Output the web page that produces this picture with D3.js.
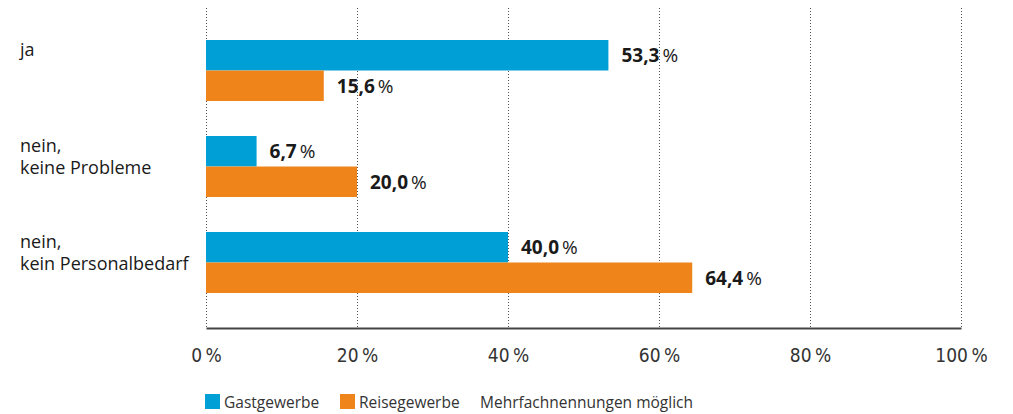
<!DOCTYPE html>
<html>
<head>
<meta charset="utf-8">
<script src="https://cdn.jsdelivr.net/npm/d3@7"></script>
<style>
  body { margin: 0; background: #fff; }
  svg text { font-family: "Open Sans", "Noto Sans", sans-serif; fill: #1a1a1a; }
  .tick text { font-family: "DejaVu Sans Condensed", "DejaVu Sans", sans-serif; font-stretch: condensed; font-size: 19px; fill: #333; }
</style>
</head>
<body>
<div id="chart"></div>
<script>
// data
const categories = [['ja'], ['nein,', 'keine Probleme'], ['nein,', 'kein Personalbedarf']]
const seriesNames = ['Gastgewerbe', 'Reisegewerbe']
const gastgewerbe = [53.3, 6.7, 40.0]
const reisegewerbe = [15.6, 20.0, 64.4]
const xTicks = [0, 20, 40, 60, 80, 100]
const note = 'Mehrfachnennungen möglich'
const colors = ['#009fd6', '#ef841b']

const width = 1013
const height = 414

const svg = d3.select('#chart').append('svg')
    .attr('width', width)
    .attr('height', height)

const x = d3.scaleLinear().domain([0, 100]).range([206, 961])

// groups
const y0 = d3.scaleBand()
    .domain(d3.range(categories.length))
    .range([40, 293])
    .paddingInner(35 / 96)
    .paddingOuter(0)
    .align(0)
const y1 = d3.scaleBand()
    .domain([0, 1])
    .range([0, y0.bandwidth()])

// gridlines
svg.append('g')
    .selectAll('line')
    .data(xTicks)
    .join('line')
    .attr('x1', d => x(d) + 0.5)
    .attr('x2', d => x(d) + 0.5)
    .attr('y1', 8)
    .attr('y2', 328)
    .attr('stroke', '#555')
    .attr('stroke-width', 1)
    .attr('stroke-dasharray', '1,2')

// bars
const fmt = v => d3.format('.1f')(v).replace('.', ',')
const series = [gastgewerbe, reisegewerbe]

series.forEach((vals, s) => {
    const g = svg.append('g')
    g.selectAll('rect')
        .data(vals)
        .join('rect')
        .attr('x', x(0))
        .attr('y', (d, i) => y0(i) + y1(s))
        .attr('width', d => x(d) - x(0))
        .attr('height', y1.bandwidth())
        .attr('fill', colors[s])

    const t = g.selectAll('text')
        .data(vals)
        .join('text')
        .attr('x', d => x(d) + 13)
        .attr('y', (d, i) => y0(i) + y1(s) + y1.bandwidth() / 2)
        .attr('dy', '0.36em')
        .style('font-size', '19px')
    t.append('tspan').attr('font-weight', 'bold').text(d => fmt(d))
    t.append('tspan').attr('dx', 3).attr('font-weight', 'normal').text('%')
})

// category labels
categories.forEach((lines, i) => {
    const t = svg.append('text')
        .attr('x', 20)
        .attr('y', y0(i) + 16)
        .style('font-size', '18px')
    lines.forEach((l, j) => {
        t.append('tspan').attr('x', 20).attr('dy', j === 0 ? 0 : 22).text(l)
    })
})

// axis
const axis = svg.append('g')
    .attr('transform', 'translate(0,328)')
    .call(d3.axisBottom(x).tickValues(xTicks).tickSize(0).tickPadding(17).tickFormat(d => d + '\u2009%'))
axis.select('.domain').attr('stroke', '#444').attr('stroke-width', 2)
axis.selectAll('.tick text').attr('dy', '0.9em')

// legend
const legend = svg.append('g').attr('transform', 'translate(205,394)')
const legendX = [0, 135]
seriesNames.forEach((n, i) => {
    legend.append('rect')
        .attr('x', legendX[i])
        .attr('y', 0)
        .attr('width', 15)
        .attr('height', 15)
        .attr('fill', colors[i])
    legend.append('text')
        .attr('x', legendX[i] + 19)
        .attr('y', 14)
        .style('font-size', '15.5px')
        .style('fill', '#333')
        .text(n)
})
legend.append('text')
    .attr('x', 275)
    .attr('y', 14)
    .style('font-size', '15.5px')
    .style('fill', '#333')
    .text(note)
</script>
</body>
</html>
